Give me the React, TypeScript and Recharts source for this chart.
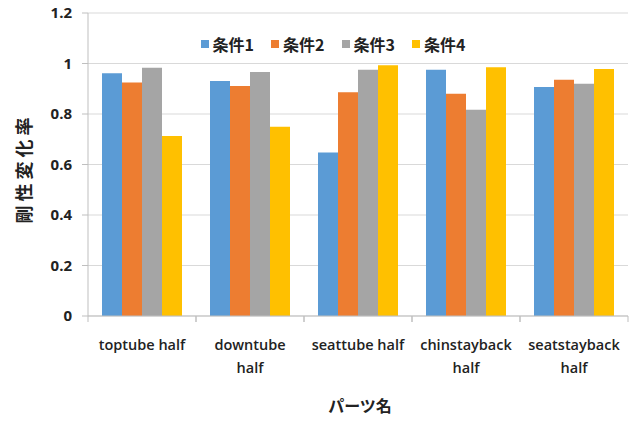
import { Bar, BarChart, CartesianGrid, Legend, XAxis, YAxis } from "recharts";

const categories = [
    "toptube half",
    "downtube half",
    "seattube half",
    "chinstayback half",
    "seatstayback half",
];

// how each category label is broken into lines under the axis
const tickLines = [
    ["toptube half"],
    ["downtube", "half"],
    ["seattube half"],
    ["chinstayback", "half"],
    ["seatstayback", "half"],
];

const seriesNames = ["条件1", "条件2", "条件3", "条件4"];
const seriesColors = ["#5B9BD5", "#ED7D31", "#A5A5A5", "#FFC000"];

const cond1 = [0.961, 0.931, 0.648, 0.975, 0.907];
const cond2 = [0.925, 0.911, 0.886, 0.88, 0.936];
const cond3 = [0.983, 0.966, 0.975, 0.817, 0.92];
const cond4 = [0.713, 0.75, 0.993, 0.985, 0.978];

const yTicks = [0, 0.2, 0.4, 0.6, 0.8, 1, 1.2];

const data = categories.map((name, i) => ({
    name,
    c1: cond1[i],
    c2: cond2[i],
    c3: cond3[i],
    c4: cond4[i],
}));

const seriesKeys = ["c1", "c2", "c3", "c4"];

const PLOT_WIDTH = 540;
const BAND = PLOT_WIDTH / categories.length;

const CJK = '"Noto Sans CJK JP", "Noto Sans", sans-serif';
const LATIN = '"Open Sans", "Noto Sans", sans-serif';

function CategoryTick(props: any) {
    const { x, y, index } = props;
    const lines = tickLines[index] ?? [props.payload.value];
    return (
        <g>
            <line x1={x - BAND / 2} x2={x - BAND / 2} y1={y - 8} y2={y - 2} stroke="#BFBFBF" />
            <line x1={x + BAND / 2} x2={x + BAND / 2} y1={y - 8} y2={y - 2} stroke="#BFBFBF" />
            {lines.map((line: string, k: number) => (
                <text
                    key={k}
                    x={x}
                    y={y + 26 + k * 23}
                    textAnchor="middle"
                    fontFamily={LATIN}
                    fontWeight={600}
                    fontSize={14.5}
                    fill="#222"
                >
                    {line}
                </text>
            ))}
        </g>
    );
}

function LegendContent() {
    return (
        <div
            style={{
                display: "flex",
                justifyContent: "center",
                paddingLeft: 28,
                gap: 17,
                fontFamily: CJK,
                fontWeight: 700,
                fontSize: 16,
                color: "#222",
                lineHeight: "20px",
            }}
        >
            {seriesNames.map((name, i) => (
                <div key={name} style={{ display: "flex", alignItems: "center" }}>
                    <span
                        style={{
                            display: "inline-block",
                            width: 8,
                            height: 8,
                            background: seriesColors[i],
                            marginRight: 4,
                        }}
                    />
                    {name}
                </div>
            ))}
        </div>
    );
}

export default function App() {
    return (
        <div style={{ position: "absolute", left: 0, top: 0, background: "#fff" }}>
            <BarChart
                width={638}
                height={421}
                data={data}
                margin={{ top: 13, right: 10, bottom: 0, left: 28 }}
                barCategoryGap={14}
                barGap={0}
            >
                <CartesianGrid vertical={false} stroke="#D9D9D9" />
                <XAxis
                    dataKey="name"
                    tick={<CategoryTick />}
                    tickLine={false}
                    axisLine={{ stroke: "#BFBFBF" }}
                    interval={0}
                    height={105}
                    label={{
                        value: "パーツ名",
                        position: "insideBottom",
                        offset: 9,
                        dx: 2,
                        fontFamily: CJK,
                        fontWeight: 700,
                        fontSize: 16,
                        fill: "#222",
                    }}
                />
                <YAxis
                    domain={[0, 1.2]}
                    ticks={yTicks}
                    width={60}
                    tickSize={6}
                    tickMargin={10}
                    tickLine={{ stroke: "#BFBFBF" }}
                    axisLine={{ stroke: "#BFBFBF" }}
                    tick={{ fontFamily: LATIN, fontWeight: 700, fontSize: 15, fill: "#222" }}
                    label={{
                        value: "剛性変化率",
                        angle: -90,
                        position: "insideLeft",
                        dx: -8,
                        dy: 4,
                        fontFamily: CJK,
                        fontWeight: 700,
                        fontSize: 18,
                        letterSpacing: 4,
                        fill: "#222",
                        style: { textAnchor: "middle" },
                    }}
                />
                <Legend
                    verticalAlign="middle"
                    content={<LegendContent />}
                    wrapperStyle={{ top: 34, left: 0, width: 638 }}
                />
                {seriesKeys.map((key, i) => (
                    <Bar
                        key={key}
                        dataKey={key}
                        name={seriesNames[i]}
                        fill={seriesColors[i]}
                        isAnimationActive={false}
                    />
                ))}
            </BarChart>
        </div>
    );
}
